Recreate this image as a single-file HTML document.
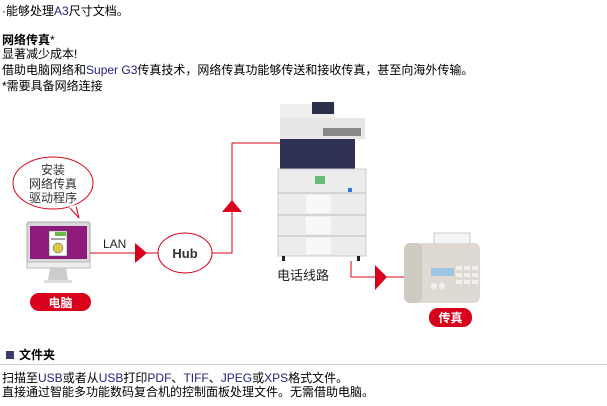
<!DOCTYPE html>
<html><head><meta charset="utf-8"><style>
body{margin:0;width:607px;height:406px;background:#fff;position:relative;overflow:hidden;font-family:"Liberation Sans","WenQuanYi Zen Hei","Noto Sans CJK SC",sans-serif;font-size:12px;color:#000}
.t{position:absolute;left:2px;white-space:nowrap;line-height:14px}
.b{color:#22237a}
</style></head><body>
<div class="t" style="top:4px">·能够处理<span class="b">A3</span>尺寸文档。</div>
<div class="t" style="top:33px;font-weight:bold">网络传真<span style="font-weight:normal">*</span></div>
<div class="t" style="top:47px">显著减少成本!</div>
<div class="t" style="top:63px">借助电脑网络和<span class="b">Super G3</span>传真技术，网络传真功能够传送和接收传真，甚至向海外传输。</div>
<div class="t" style="top:79px">*需要具备网络连接</div>

<svg width="607" height="406" style="position:absolute;left:0;top:0" xmlns="http://www.w3.org/2000/svg">
 <path d="M70,208 L79,218 L76,206" fill="#fff" stroke="#d9001b" stroke-width="1"/>
 <ellipse cx="53" cy="183" rx="40" ry="26" fill="#fff" stroke="#d9001b"/>
 <path d="M70,207 L76,206" stroke="#fff" stroke-width="2"/>
 <text x="53" y="174" font-size="12" text-anchor="middle" fill="#333">安装</text>
 <text x="53" y="188" font-size="12" text-anchor="middle" fill="#333">网络传真</text>
 <text x="53" y="202" font-size="12" text-anchor="middle" fill="#333">驱动程序</text>
 <rect x="27" y="222" width="63" height="41" rx="2" fill="#d8d8d8" stroke="#aaa"/>
 <rect x="30" y="226" width="57" height="33" fill="#8e1a7c"/>
 <rect x="49" y="231" width="18" height="25" fill="#fff" stroke="#555" stroke-width="0.5"/>
 <rect x="55" y="232" width="11" height="4" fill="#6b4"/>
 <line x1="51" y1="239" x2="65" y2="239" stroke="#444"/>
 <circle cx="58" cy="248" r="5" fill="#dcc84a" stroke="#444" stroke-width="0.5"/>
 <rect x="27" y="262" width="63" height="6" fill="#eee" stroke="#bbb"/>
 <polygon points="50,268 66,268 68,280 48,280" fill="#ccc"/>
 <rect x="44" y="280" width="28" height="3" fill="#ddd"/>
 <rect x="30" y="293" width="61" height="18" rx="9" fill="#d9001b"/>
 <text x="60.5" y="307" font-size="12" font-weight="bold" text-anchor="middle" fill="#fff">电脑</text>
 <line x1="90" y1="253" x2="158" y2="253" stroke="#d9001b"/>
 <text x="103" y="248" font-size="12" fill="#222">LAN</text>
 <polygon points="135,243 147,253 135,263" fill="#d9001b"/>
 <ellipse cx="185" cy="253" rx="27" ry="20" fill="#fff" stroke="#d9001b"/>
 <text x="185" y="258" font-size="13" font-weight="bold" text-anchor="middle" fill="#333">Hub</text>
 <polyline points="212,253 232,253 232,143 282,143" fill="none" stroke="#d9001b"/>
 <polygon points="222,212 232,200 242,212" fill="#d9001b"/>
 <!-- printer -->
 <rect x="280" y="104" width="55" height="15" fill="#eee"/>
 <rect x="312" y="102" width="22" height="12" fill="#2a2f4a"/>
 <rect x="280" y="118" width="85" height="21" fill="#e6e6e6"/>
 <rect x="323" y="128" width="38" height="8" fill="#888"/>
 <rect x="280" y="139" width="75" height="30" fill="#2d3152"/>
 <rect x="278" y="169" width="88" height="87" fill="#ececec" stroke="#ccc"/>
 <rect x="315" y="176" width="10" height="8" fill="#6b7"/>
 <rect x="348" y="188" width="4" height="4" fill="#2a7ad0"/>
 <line x1="278" y1="193" x2="366" y2="193" stroke="#bbb"/>
 <line x1="278" y1="215" x2="366" y2="215" stroke="#bbb"/>
 <line x1="278" y1="236" x2="366" y2="236" stroke="#bbb"/>
 <rect x="306" y="195" width="25" height="18" fill="#f8f8f8"/>
 <rect x="306" y="217" width="25" height="17" fill="#f8f8f8"/>
 <rect x="306" y="238" width="25" height="16" fill="#f8f8f8"/>
 <rect x="282" y="256" width="3" height="5" fill="#222"/>
 <rect x="357" y="256" width="3" height="5" fill="#222"/>
 <text x="277" y="280" font-size="13" fill="#222">电话线路</text>
 <polyline points="351,261 351,277 406,277" fill="none" stroke="#d9001b"/>
 <polygon points="375,265 387,277 375,290" fill="#d9001b"/>
 <rect x="434" y="233" width="36" height="30" fill="#f4f4f4" stroke="#ccc"/>
 <rect x="404" y="243" width="76" height="60" rx="6" fill="#dedad3"/>
 <rect x="404" y="243" width="18" height="60" rx="6" fill="#cfcac2"/>
 <rect x="431" y="268" width="23" height="8" fill="#9ec6e0"/>
 <g fill="#f2f0ec">
  <rect x="456" y="266" width="6" height="4"/><rect x="464" y="266" width="6" height="4"/><rect x="472" y="266" width="6" height="4"/>
  <rect x="456" y="273" width="6" height="4"/><rect x="464" y="273" width="6" height="4"/><rect x="472" y="273" width="6" height="4"/>
  <rect x="456" y="280" width="6" height="4"/><rect x="464" y="280" width="6" height="4"/><rect x="472" y="280" width="6" height="4"/>
  <circle cx="434" cy="286" r="3"/><circle cx="442" cy="286" r="3"/>
 </g>
 <rect x="429" y="308" width="43" height="19" rx="9" fill="#d9001b"/>
 <text x="450.5" y="322" font-size="12" font-weight="bold" text-anchor="middle" fill="#fff">传真</text>
 <rect x="6" y="351" width="8" height="8" fill="#3b3b6b"/>
 <line x1="0" y1="364.5" x2="607" y2="364.5" stroke="#ccc"/>
</svg>
<div class="t" style="top:348px;left:19px;font-weight:bold">文件夹</div>
<div class="t" style="top:371px">扫描至<span class="b">USB</span>或者从<span class="b">USB</span>打印<span class="b">PDF</span>、<span class="b">TIFF</span>、<span class="b">JPEG</span>或<span class="b">XPS</span>格式文件。</div>
<div class="t" style="top:385px">直接通过智能多功能数码复合机的控制面板处理文件。无需借助电脑。</div>
</body></html>
